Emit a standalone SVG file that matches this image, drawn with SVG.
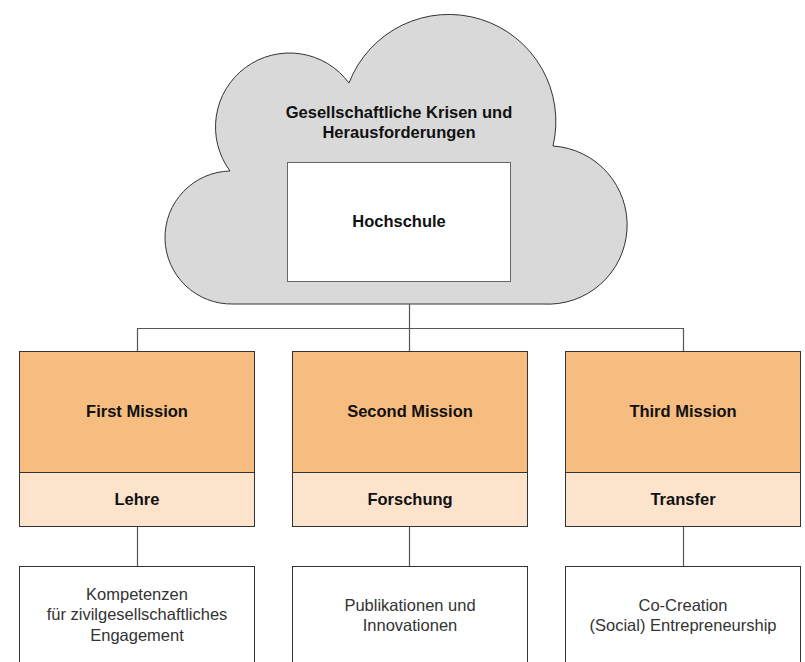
<svg xmlns="http://www.w3.org/2000/svg" width="805" height="662" viewBox="0 0 805 662">
<style>
.b{font-family:"Liberation Sans",Arial,sans-serif;font-size:16.5px;font-weight:bold;fill:#111;text-anchor:middle}
.l{font-family:"Liberation Sans",Arial,sans-serif;font-size:16.5px;fill:#333;text-anchor:middle}
.top{fill:#f6bc80;stroke:#333;stroke-width:1}
.sub{fill:#fce3cc;stroke:#333;stroke-width:1}
.out{fill:#fff;stroke:#333;stroke-width:1}
.c{fill:none;stroke:#555;stroke-width:1.2}
</style>
<rect width="805" height="662" fill="#fff"/>
<g id="cloud">
<path d="M 233 304 A 66.5 66.5 0 0 1 230 171 A 74 74 0 0 1 349 83 A 107 107 0 0 1 553 146 A 79 79 0 0 1 543 304 Z" fill="#d9d9d9" stroke="#333" stroke-width="1"/>
<text class="b" x="399" y="118">Gesellschaftliche Krisen und</text>
<text class="b" x="399" y="138">Herausforderungen</text>
</g>
<g id="hochschule">
<rect x="287.5" y="162.5" width="223" height="119" fill="#fff" stroke="#666" stroke-width="1"/>
<text class="b" x="399" y="227">Hochschule</text>
</g>
<g id="connectors">
<path class="c" d="M 409.5 304 V 351 M 137.5 351 V 328.5 H 683.5 V 351"/>
<path class="c" d="M 137.5 527 V 566 M 409.5 527 V 566 M 683.5 527 V 566"/>
</g>
<g id="first">
<rect class="top" x="19.5" y="351.5" width="235" height="121"/>
<text class="b" x="137" y="417">First Mission</text>
<rect class="sub" x="19.5" y="472.5" width="235" height="54"/>
<text class="b" x="137" y="505">Lehre</text>
</g>
<g id="second">
<rect class="top" x="292.5" y="351.5" width="235" height="121"/>
<text class="b" x="410" y="417">Second Mission</text>
<rect class="sub" x="292.5" y="472.5" width="235" height="54"/>
<text class="b" x="410" y="505">Forschung</text>
</g>
<g id="third">
<rect class="top" x="565.5" y="351.5" width="235" height="121"/>
<text class="b" x="683" y="417">Third Mission</text>
<rect class="sub" x="565.5" y="472.5" width="235" height="54"/>
<text class="b" x="683" y="505">Transfer</text>
</g>
<g id="out1">
<rect class="out" x="19.5" y="566.5" width="235" height="120"/>
<text class="l" x="137" y="600">Kompetenzen</text>
<text class="l" x="137" y="620">für zivilgesellschaftliches</text>
<text class="l" x="137" y="641">Engagement</text>
</g>
<g id="out2">
<rect class="out" x="292.5" y="566.5" width="235" height="120"/>
<text class="l" x="410" y="611">Publikationen und</text>
<text class="l" x="410" y="631">Innovationen</text>
</g>
<g id="out3">
<rect class="out" x="565.5" y="566.5" width="235" height="120"/>
<text class="l" x="683" y="611">Co-Creation</text>
<text class="l" x="683" y="631">(Social) Entrepreneurship</text>
</g>
</svg>
